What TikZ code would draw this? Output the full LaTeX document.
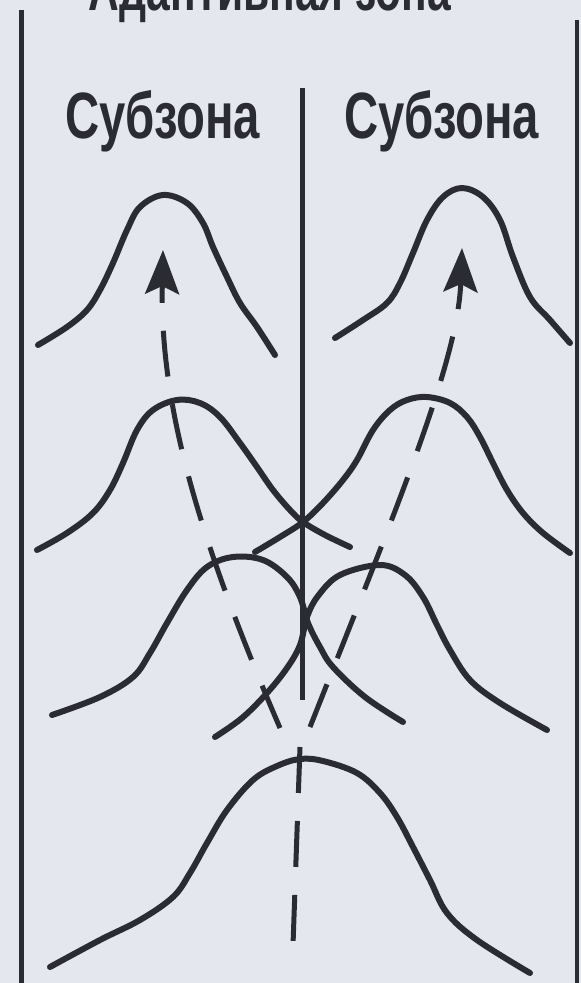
\documentclass[tikz,border=0pt]{standalone}
\usepackage{fontspec}
\setmainfont{Liberation Sans}
\usetikzlibrary{arrows.meta}
\definecolor{bg}{HTML}{E4E7ED}
\definecolor{ink}{HTML}{2B2C31}
\begin{document}
\begin{tikzpicture}[x=1pt,y=-1pt,
  bell/.style={draw=ink, line width=6pt, line cap=round, line join=round},
  rule/.style={draw=ink, line width=5pt},
  dashline/.style={draw=ink, line width=5pt, dash pattern=on 46pt off 28pt},
  tipped/.style={-{Stealth[length=44pt,width=34pt,inset=8pt]}},
  lbl/.style={inner sep=0pt, text=ink, anchor=base west}]
\useasboundingbox (0,0) rectangle (581,983);
\clip (0,0) rectangle (581,983);
\fill[bg] (0,0) rectangle (581,983);

% title (cut off at the top, as in the reference)
\node[inner sep=0pt, text=ink, anchor=base] (title) at (270,10)
  {\resizebox{362pt}{42pt}{\bfseries Адаптивная зона}};

% frame lines
\coordinate (ltop) at (21,10);   \coordinate (lbot) at (21,983);
\coordinate (rtop) at (577,20);  \coordinate (rbot) at (577,983);
\coordinate (mtop) at (302,88);  \coordinate (mbot) at (302,700);
\draw[rule] (ltop) -- (lbot);
\draw[rule, line width=3.5pt] (rtop) -- (rbot);
\draw[rule] (mtop) -- (mbot);

% labels
\node[lbl] (subL) at (65,138) {\resizebox{195pt}{48pt}{\bfseries Субзона}};
\node[lbl] (subR) at (344,138) {\resizebox{195pt}{48pt}{\bfseries Субзона}};

% bells
\draw[bell] plot[smooth, tension=0.6] coordinates {(38,345) (67,327) (87,310) (100,290) (113,263) (127,230) (140,207) (163,195) (187,203) (203,223) (213,247) (227,277) (240,303) (257,327) (275,355)};
\draw[bell] plot[smooth, tension=0.6] coordinates {(335,338) (363,320) (387,303) (400,283) (413,253) (427,220) (443,197) (462,188) (483,197) (500,220) (513,257) (530,297) (550,320) (570,343)};
\draw[bell] plot[smooth, tension=0.6] coordinates {(37,550) (67,533) (93,513) (110,490) (123,463) (137,430) (153,410) (177,400) (200,403) (220,417) (240,443) (257,467) (273,490) (290,510) (303,522) (325,535) (350,547)};
\draw[bell] plot[smooth, tension=0.6] coordinates {(255,552) (280,537) (303,522) (323,503) (343,480) (357,460) (373,430) (390,410) (407,400) (427,397) (450,403) (467,417) (480,437) (493,463) (507,490) (523,513) (543,533) (570,553)};
\draw[bell] plot[smooth, tension=0.6] coordinates {(52,715) (100,697) (133,677) (150,653) (167,623) (187,590) (207,567) (233,557) (263,560) (287,577) (300,597) (308,623) (320,647) (333,667) (365,697) (403,722)};
\draw[bell] plot[smooth, tension=0.6] coordinates {(215,737) (242,718) (267,693) (287,668) (300,645) (307,617) (318,596) (340,575) (380,565) (405,575) (423,597) (437,625) (450,650) (470,680) (500,703) (547,730)};
\draw[bell] plot[smooth, tension=0.6] coordinates {(50,967) (100,940) (140,920) (173,897) (190,873) (207,843) (227,810) (253,780) (277,766) (300,759) (323,761) (357,773) (380,793) (397,817) (413,847) (430,880) (447,913) (477,940) (530,973)};

% dashed trajectories
\coordinate (aLs) at (280,728); \coordinate (aLe) at (163,250);
\coordinate (aRs) at (310,727); \coordinate (aRe) at (462,248);
\coordinate (vS) at (300,747);  \coordinate (vE) at (293,945);
\draw[dashline, tipped] (aLs) .. controls (194,528) and (160,400) .. (aLe);
\draw[dashline, tipped] (aRs) .. controls (400,500) and (458,360) .. (aRe);
\draw[dashline] (vS) -- (vE);
\end{tikzpicture}
\end{document}
